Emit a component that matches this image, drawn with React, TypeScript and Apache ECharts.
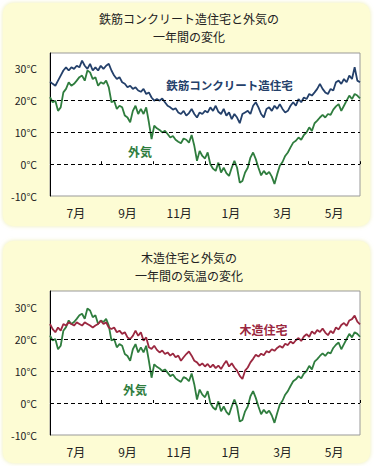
import React, { useEffect, useRef } from "react";
import * as echarts from "echarts";

// Month labels (each covers a two-month band)
const MONTH_LABELS = ["7月", "9月", "11月", "1月", "3月", "5月"];

// Outdoor air temperature (外気), about every 3 days from June to May
const OUTDOOR = [
  21.1, 19.5, 20, 16.8, 17.9, 22.6, 23.7, 25.8, 24.7, 25.3,
  26.3, 27.4, 27.9, 26.3, 29.5, 28.9, 26.8, 27.4, 24.7, 25.8,
  25.3, 26.3, 24.2, 19.5, 20, 17.4, 18.4, 17.9, 15.3, 14.7,
  13.2, 16.8, 18.4, 15.8, 17.4, 15.8, 17.9, 13.2, 7.9, 12.1,
  11.3, 10.8, 10, 10.5, 9.5, 8.4, 8.9, 7.7, 7.1, 6.6,
  8.1, 7.7, 6.8, 9.2, 5.8, 1.1, 4.2, 2.6, 1.8, 3.7,
  0, -1.4, -2.1, 0.5, -2.6, -1.1, -2.8, -3.7, -1.1, 1.1,
  -1.1, -5.8, -5.3, -2.6, -1.1, 2.1, 3.7, 1.6, -1.1,
  -3.5, -2.1, -3.2, -2.4, -3.9, -6.2, -3.2, -0.5, 0.7, 2.6,
  3.7, 5.3, 6.8, 7.4, 8.4, 7.7, 9.2, 10, 11.6, 10.5,
  12.9, 13.7, 14.7, 15.5, 14.7, 15.8, 15.5, 17.2, 18.2, 18.9,
  16.8, 18.4, 20, 21.6, 20.5, 22.1, 21.6, 20.7,
];

// Reinforced concrete house (鉄筋コンクリート造住宅)
const RC_HOUSE = [
  26, 25.3, 24.7, 26.3, 27.9, 29.5, 30.5, 29.5, 30.5, 30,
  31, 30.5, 32.6, 31, 30, 31.6, 29.5, 30.5, 29.5, 31,
  30, 31, 31.6, 29.5, 27.9, 26.8, 27.4, 25.8, 25.3, 24.2,
  24.7, 23.7, 24.2, 23.2, 22.8, 23.7, 22.1, 22.6, 21, 20,
  20.5, 20, 20.7, 19.5, 18.4, 17.9, 17.2, 17.6, 16.3, 15.8,
  16.8, 15.3, 16.1, 17.4, 15.8, 14.7, 16.3, 15.8, 16.8, 16.3,
  17.9, 16.8, 18.4, 16.5, 15.8, 17.4, 15.3, 16.3, 14.2, 15.8,
  14.7, 12.9, 15.8, 16.3, 16.8, 15.8, 18.4, 19.5, 17.9,
  15.8, 14.7, 17.4, 17.9, 16.8, 18.4, 17.4, 18.9, 17.4, 16.3,
  16.8, 18.4, 19.5, 18.4, 20.5, 19.5, 21, 20.5, 22.1, 21.6,
  22.6, 23.7, 25.3, 23.7, 22.6, 22.1, 23.7, 23.2, 25.8, 26.3,
  25.3, 26.8, 25.8, 27.9, 26.8, 30.5, 26.3, 25.8,
];

// Wooden house (木造住宅)
const WOOD_HOUSE = [
  24.7, 23.1, 22.1, 23.6, 22.6, 24.7, 24.2, 25.2, 24.7, 24.2,
  25.2, 24.7, 24.2, 25.2, 24.7, 24.2, 23.6, 24.2, 24.7, 25.7,
  24.7, 25.2, 23.6, 23.1, 23.6, 22.1, 22.6, 21.6, 22.1, 20.5,
  20, 21, 22.6, 21, 22.1, 19.5, 20.5, 17.4, 16.9, 17.9,
  16.6, 15.8, 16.4, 15.3, 15.8, 14.8, 15.5, 14.3, 14.8, 13.2,
  14.3, 15.3, 16.1, 14.8, 13.2, 12.7, 11.7, 12.4, 11.4, 12.2,
  11.1, 12, 10.9, 11.7, 10.6, 12, 13.2, 11.4, 12.4, 11.1,
  10.1, 8.5, 7.5, 10.1, 11.1, 12.7, 13.8, 15.1, 14.5,
  15.4, 14.9, 16.2, 15.8, 16.8, 16.3, 17.2, 17.8, 17.3, 18.5,
  18.1, 19.2, 18.6, 19.6, 20.3, 19.4, 20.8, 21.5, 20.7, 22.4,
  21.6, 22.8, 22.2, 23.3, 22, 21.2, 22.5, 21.8, 23.6, 23,
  24.4, 25, 24.1, 25.8, 26.2, 27.3, 25.4, 24.6,
];

const GRID_LINES = [0, 10, 20];

const NAVY = "#24406a";
const GREEN = "#2f7d3e";
const RED = "#9b2840";
const FONT = "'Noto Sans CJK JP', 'Noto Sans', sans-serif";

function pts(arr: number[]) {
  return arr.map((v, i) => [(i * 12) / (arr.length - 1), v]);
}

function axesFor(g: number) {
  return {
    x: [
      {
        type: "value",
        gridIndex: g,
        min: 0,
        max: 12,
        interval: 2,
        position: "bottom",
        axisLine: { show: true, lineStyle: { color: "#ffffff", width: 1 } },
        axisTick: { show: true, inside: true, length: 3, lineStyle: { color: "#000" } },
        axisLabel: { show: false },
        splitLine: { show: false },
      },
      {
        type: "category",
        gridIndex: g,
        data: MONTH_LABELS,
        position: "bottom",
        boundaryGap: true,
        axisLine: { show: false },
        axisTick: { show: false },
        axisLabel: { margin: 10, fontSize: 12, color: "#222", fontFamily: FONT },
        splitLine: { show: false },
      },
    ],
    y: {
      type: "value",
      gridIndex: g,
      min: -10,
      max: 35,
      interval: 10,
      axisLine: { show: true, lineStyle: { color: "#000", width: 1 } },
      axisTick: { show: false },
      axisLabel: {
        showMaxLabel: false,
        formatter: (v: number) => `${v}°C`,
        margin: 13,
        fontSize: 10.5,
        color: "#222",
        fontFamily: FONT,
      },
      splitLine: { show: false },
    },
  };
}

function gridLineSeries(xi: number, yi: number) {
  return {
    type: "line",
    xAxisIndex: xi,
    yAxisIndex: yi,
    data: [],
    z: 1,
    silent: true,
    markLine: {
      silent: true,
      symbol: ["none", "none"],
      label: { show: false },
      lineStyle: { type: [4, 3], color: "#000", width: 1 },
      data: GRID_LINES.map((v) => ({ yAxis: v })),
    },
  };
}

function lineSeries(xi: number, yi: number, arr: number[], color: string) {
  return {
    type: "line",
    xAxisIndex: xi,
    yAxisIndex: yi,
    data: pts(arr),
    symbol: "none",
    showSymbol: false,
    z: 3,
    lineStyle: { color, width: 1.8 },
  };
}

export default function App() {
  const ref = useRef<HTMLDivElement>(null);
  useEffect(() => {
    if (!ref.current) return;
    const chart = echarts.init(ref.current, undefined, { renderer: "svg" });
    const a0 = axesFor(0);
    const a1 = axesFor(1);
    const title = (text: string, y: number) => ({
      type: "text",
      x: 189,
      y,
      z: 10,
      style: {
        text,
        fill: "#222",
        font: `12px ${FONT}`,
        textAlign: "center",
        textVerticalAlign: "middle",
      },
    });
    const seriesLabel = (text: string, x: number, y: number, color: string, size: number) => ({
      type: "text",
      x,
      y,
      z: 10,
      style: {
        text,
        fill: color,
        font: `bold ${size}px ${FONT}`,
        textAlign: "center",
        textVerticalAlign: "middle",
      },
    });
    chart.setOption({
      animation: false,
      textStyle: { fontFamily: FONT },
      grid: [
        { left: 50, top: 53, width: 310, height: 143, show: true, backgroundColor: "#fff", borderColor: "#999", borderWidth: 1 },
        { left: 50, top: 291, width: 310, height: 144, show: true, backgroundColor: "#fff", borderColor: "#999", borderWidth: 1 },
      ],
      xAxis: [...a0.x, ...a1.x],
      yAxis: [a0.y, a1.y],
      graphic: [
        {
          type: "rect",
          z: -10,
          shape: { x: 3, y: 3, width: 367, height: 223, r: 10 },
          style: { fill: "#fdfcd4", shadowBlur: 4, shadowColor: "rgba(235,235,170,0.9)" },
        },
        {
          type: "rect",
          z: -10,
          shape: { x: 3, y: 241, width: 367, height: 222, r: 10 },
          style: { fill: "#fdfcd4", shadowBlur: 4, shadowColor: "rgba(235,235,170,0.9)" },
        },
        title("鉄筋コンクリート造住宅と外気の", 18.5),
        title("一年間の変化", 36),
        title("木造住宅と外気の", 257.5),
        title("一年間の気温の変化", 275),
        seriesLabel("鉄筋コンクリート造住宅", 229.5, 85, NAVY, 11.5),
        seriesLabel("外気", 140, 151, GREEN, 12),
        seriesLabel("木造住宅", 263.5, 329, RED, 12),
        seriesLabel("外気", 135, 389, GREEN, 12),
      ],
      series: [
        gridLineSeries(0, 0),
        lineSeries(0, 0, OUTDOOR, GREEN),
        lineSeries(0, 0, RC_HOUSE, NAVY),
        gridLineSeries(2, 1),
        lineSeries(2, 1, OUTDOOR, GREEN),
        lineSeries(2, 1, WOOD_HOUSE, RED),
      ],
    });
    return () => chart.dispose();
  }, []);
  return (
    <div
      ref={ref}
      style={{ position: "absolute", left: 0, top: 0, width: 374, height: 466 }}
    />
  );
}
